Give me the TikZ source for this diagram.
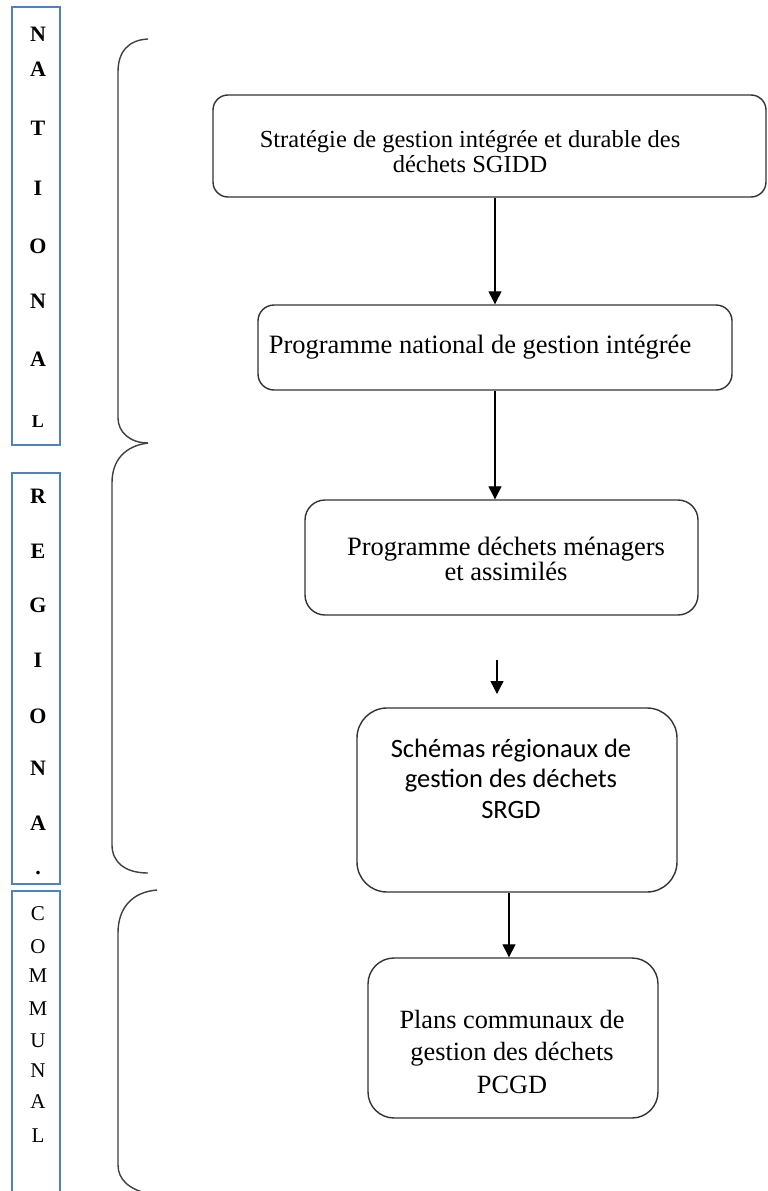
\documentclass[tikz,border=0pt]{standalone}
\usepackage{fontspec}
\setmainfont{Liberation Serif}
\newfontfamily\carlitofont{Carlito}
\usetikzlibrary{arrows.meta}
\definecolor{frameblue}{RGB}{79,129,189}
\newcommand\stacklines[1]{\begin{tabular}[t]{@{}c@{}}#1\end{tabular}}
\begin{document}
\begin{tikzpicture}[x=1pt,y=-1pt,
  stagebox/.style={draw=black!80, line width=1.4pt, rounded corners=#1, inner sep=0pt},
  stagebox/.default=15pt,
  stagetext/.style={anchor=base, inner sep=0pt, text=black},
  levelframe/.style={draw=frameblue, line width=1.4pt, inner sep=0pt},
  boldletter/.style={anchor=base, inner sep=0pt, font=\fontsize{22}{24}\selectfont\bfseries},
  plainletter/.style={anchor=base, inner sep=0pt, font=\fontsize{21}{24}\selectfont},
  bracket/.style={draw=black!75, line width=1.4pt},
  flow/.style={draw=black, line width=1.3pt, -{Triangle[width=13pt,length=13pt]}}
]
\path[use as bounding box, fill=white] (0,0) rectangle (768,1191);
\begin{scope}
\clip (0,0) rectangle (768,1191);

% level frames on the left
\node[levelframe, minimum width=48pt, minimum height=438pt] (natframe) at (36,226) {};
\node[levelframe, minimum width=48pt, minimum height=411pt] (regframe) at (36,678.5) {};
\node[levelframe, minimum width=48pt, minimum height=320pt] (comframe) at (36,1051) {};

% vertical level names
\foreach \ch/\yy [count=\i] in {N/41, A/76, T/135, I/195, O/253, N/308, A/366}
  \node[boldletter] (nat\i) at (38,\yy) {\ch};
\node[boldletter, font=\fontsize{18}{20}\selectfont\bfseries] (nat8) at (38,427) {L};
\foreach \ch/\yy [count=\i] in {R/503, E/558, G/612, I/667, O/723, N/775, A/830, ./874}
  \node[boldletter] (reg\i) at (38,\yy) {\ch};
\foreach \ch/\yy [count=\i] in {C/920, O/953, M/982, M/1015, U/1047, N/1077, A/1108, L/1142}
  \node[plainletter] (com\i) at (38,\yy) {\ch};

% brackets grouping the levels
\draw[bracket] (148,39) .. controls (128,40) and (118,52) .. (118,72)
  -- (118,418) .. controls (118,432) and (130,443) .. (148,443);
\draw[bracket] (148,443) .. controls (125,446) and (112,460) .. (112,483)
  -- (112,845) .. controls (112,862) and (125,873) .. (148,873);
\draw[bracket] (157,890) .. controls (132,892) and (118,908) .. (118,933)
  -- (118,1165) .. controls (118,1180) and (130,1190) .. (150,1194);

% stage boxes
\node[stagebox=15pt, minimum width=553pt, minimum height=102pt] (b1) at (489.5,146) {};
\node[stagebox=16pt, minimum width=474pt, minimum height=85pt] (b2) at (495,347.5) {};
\node[stagebox=20pt, minimum width=393pt, minimum height=115pt] (b3) at (501.5,557.5) {};
\node[stagebox=30pt, minimum width=320pt, minimum height=184pt] (b4) at (517,800) {};
\node[stagebox=26pt, minimum width=290pt, minimum height=160pt] (b5) at (513,1038) {};

% stage texts
\node[stagetext, font=\fontsize{24.5}{25}\selectfont] (t1) at (470,147)
  {\stacklines{Stratégie de gestion intégrée et durable des\\déchets SGIDD}};
\node[stagetext, font=\fontsize{26.5}{28}\selectfont] (t2) at (480,353)
  {Programme national de gestion intégrée};
\node[stagetext, font=\fontsize{26.5}{25}\selectfont] (t3) at (506,555)
  {\stacklines{Programme déchets ménagers\\et assimilés}};
\node[stagetext, font=\carlitofont\fontsize{26.5}{30.5}\selectfont] (t4) at (511,757)
  {\stacklines{Schémas régionaux de\\gestion des déchets\\SRGD}};
\node[stagetext, font=\fontsize{26.3}{32.5}\selectfont] (t5) at (512,1028)
  {\stacklines{Plans communaux de\\gestion des déchets\\PCGD}};

% arrows between stages
\draw[flow] (b1.south -| b2.north) -- (b2.north);
\draw[flow] (b2.south) -- (b2.south |- b3.north);
\coordinate (a3s) at (497,660);
\coordinate (a3e) at (497,694);
\draw[flow] (a3s) -- (a3e);
\draw[flow] ([xshift=-8pt]b4.south) -- ([xshift=-8pt]b4.south |- b5.north);
\end{scope}
\end{tikzpicture}
\end{document}
